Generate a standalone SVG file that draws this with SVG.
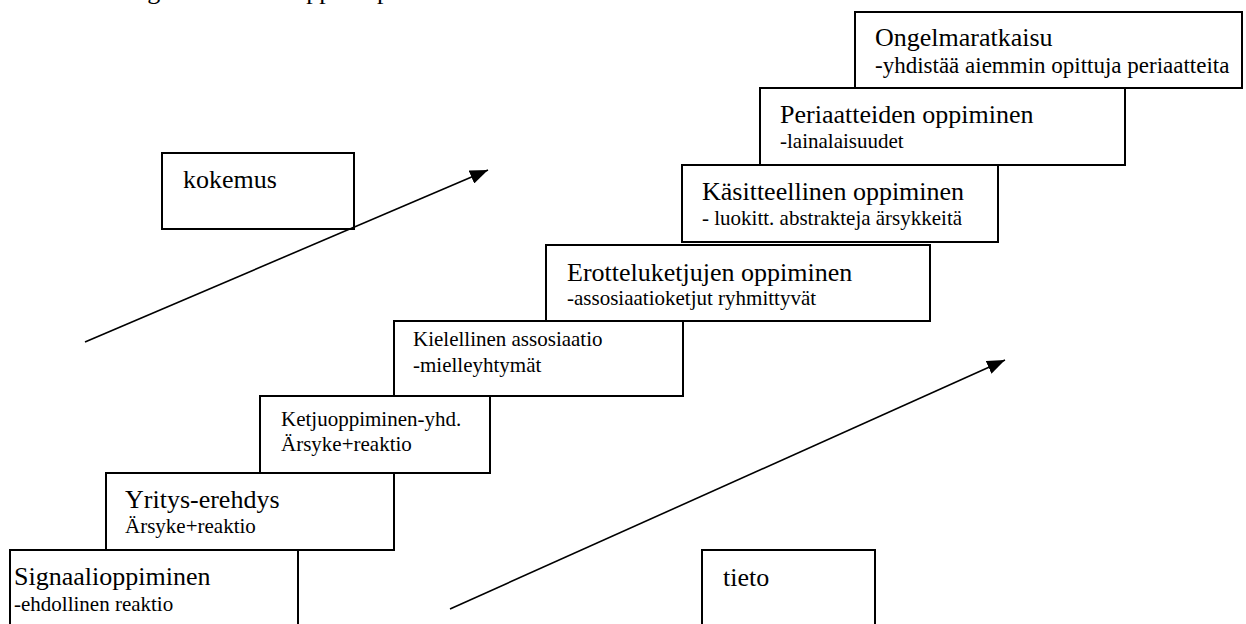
<svg xmlns="http://www.w3.org/2000/svg" width="1246" height="624" viewBox="0 0 1246 624">
  <style>
    text { font-family: "Liberation Serif", "Times New Roman", serif; fill: #000; }
    .box { fill: #fff; stroke: #000; stroke-width: 2; }
    .t { font-size: 26px; }
    .s { font-size: 21px; }
    .arrow { fill: none; stroke: #000; stroke-width: 1.6; }
  </style>
  <defs>
    <marker id="head" markerUnits="userSpaceOnUse" markerWidth="20" markerHeight="14" refX="18" refY="7" orient="auto">
      <path d="M0,0 L18,7 L0,14 Z" fill="#000"/>
    </marker>
  </defs>
  <rect width="1246" height="624" fill="#fff"/>

  <!-- heading line, mostly above the top edge -->
  <text class="t" x="117" y="-1">Gagnén mukaan oppimisportaat</text>

  <!-- staircase of learning levels, bottom to top -->
  <g id="signaalioppiminen">
    <rect class="box" x="10" y="550" width="288" height="90"/>
    <text class="t" x="14" y="585">Signaalioppiminen</text>
    <text class="s" x="14" y="611">-ehdollinen reaktio</text>
  </g>
  <g id="yritys-erehdys">
    <rect class="box" x="106" y="473" width="288" height="77"/>
    <text class="t" x="125" y="508">Yritys-erehdys</text>
    <text class="s" x="125" y="533">Ärsyke+reaktio</text>
  </g>
  <g id="ketjuoppiminen">
    <rect class="box" x="260" y="396" width="230" height="77"/>
    <text class="s" x="281" y="426">Ketjuoppiminen-yhd.</text>
    <text class="s" x="281" y="451">Ärsyke+reaktio</text>
  </g>
  <g id="kielellinen">
    <rect class="box" x="394" y="321" width="289" height="75"/>
    <text class="s" x="413" y="346">Kielellinen assosiaatio</text>
    <text class="s" x="413" y="372">-mielleyhtymät</text>
  </g>
  <g id="erotteluketjut">
    <rect class="box" x="546" y="245" width="384" height="76"/>
    <text class="t" x="567" y="281">Erotteluketjujen oppiminen</text>
    <text class="s" x="567" y="305">-assosiaatioketjut ryhmittyvät</text>
  </g>
  <g id="kasitteellinen">
    <rect class="box" x="682" y="165" width="316" height="77"/>
    <text class="t" x="702" y="200">Käsitteellinen oppiminen</text>
    <text class="s" x="702" y="225">- luokitt. abstrakteja ärsykkeitä</text>
  </g>
  <g id="periaatteet">
    <rect class="box" x="760" y="88" width="365" height="77"/>
    <text class="t" x="780" y="123">Periaatteiden oppiminen</text>
    <text class="s" x="780" y="148">-lainalaisuudet</text>
  </g>
  <g id="ongelmaratkaisu">
    <rect class="box" x="855" y="12" width="387" height="76"/>
    <text class="t" x="875" y="46">Ongelmaratkaisu</text>
    <text class="s" x="875" y="73" style="font-size:23px">-yhdistää aiemmin opittuja periaatteita</text>
  </g>

  <!-- axis labels -->
  <g id="kokemus">
    <rect class="box" x="162" y="153" width="192" height="76"/>
    <text class="t" x="183" y="188">kokemus</text>
  </g>
  <g id="tieto">
    <rect class="box" x="702" y="550" width="173" height="90"/>
    <text class="t" x="723" y="586">tieto</text>
  </g>

  <!-- rising arrows -->
  <g id="connectors">
    <line class="arrow" x1="85" y1="342" x2="488" y2="170" marker-end="url(#head)"/>
    <line class="arrow" x1="450" y1="609" x2="1005" y2="360" marker-end="url(#head)"/>
  </g>
</svg>
